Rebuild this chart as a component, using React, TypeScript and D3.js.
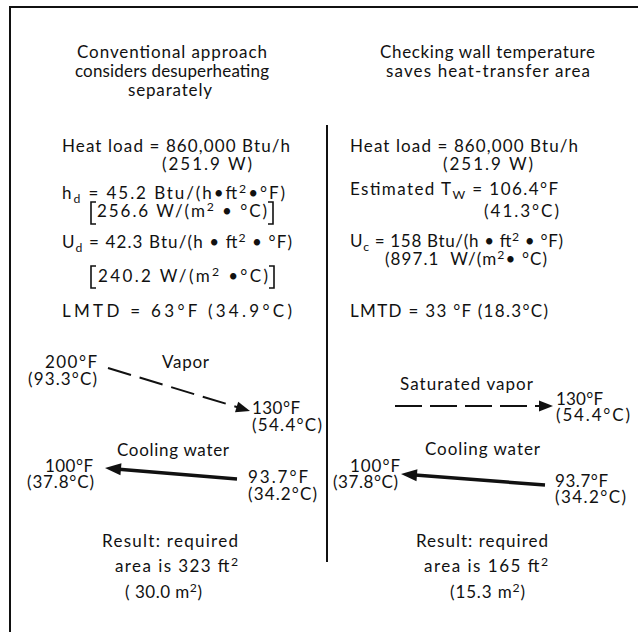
import { useEffect } from "react";
import * as d3 from "d3";

const W = 638;
const H = 632;

// values (left panel = conventional, right = wall-temperature check)
const panelTitles = [
  ["Conventional approach", "considers desuperheating", "separately"],
  ["Checking wall temperature", "saves heat-transfer area"],
];
const heatLoadBtuH = [860000, 860000];
const heatLoadW = [251.9, 251.9];
const hdBtu = 45.2;
const hdSI = 256.6;
const udBtu = 42.3;
const udSI = 240.2;
const wallTempF = 106.4;
const wallTempC = 41.3;
const ucBtu = 158;
const ucSI = 897.1;
const lmtdF = [63, 33];
const lmtdC = [34.9, 18.3];
const vaporLabels = ["Vapor", "Saturated vapor"];
const vaporInF = [200, null];
const vaporInC = [93.3, null];
const vaporOutF = [130, 130];
const vaporOutC = [54.4, 54.4];
const waterInF = [93.7, 93.7];
const waterInC = [34.2, 34.2];
const waterOutF = [100, 100];
const waterOutC = [37.8, 37.8];
const areaFt2 = [323, 165];
const areaM2 = [30.0, 15.3];

const fmtC = d3.format(".1f");
const fmtF = (v: number) => String(v);
const fmtThousands = d3.format(",");

function parse(s: string) {
  const out: { t: string; s: number }[] = [];
  const re = /([_^])\{([^}]*)\}/g;
  let last = 0;
  let m: RegExpExecArray | null;
  while ((m = re.exec(s))) {
    if (m.index > last) out.push({ t: s.slice(last, m.index), s: 0 });
    out.push({ t: m[2], s: m[1] === "_" ? 1 : -1 });
    last = re.lastIndex;
  }
  if (last < s.length) out.push({ t: s.slice(last), s: 0 });
  return out;
}

const Label = ({ x, y, w, s, size = 17 }: any) => {
  const segs = parse(s);
  let prev = 0;
  return (
    <text
      x={x}
      y={y}
      textLength={w}
      lengthAdjust="spacing"
      fontSize={size}
      style={{ whiteSpace: "pre" }}
    >
      {segs.map((g, i) => {
        const off = g.s > 0 ? 4 : g.s < 0 ? -6 : 0;
        const dy = off - prev;
        prev = off;
        return (
          <tspan key={i} dy={dy} fontSize={g.s ? size * 0.72 : size}>
            {g.t}
          </tspan>
        );
      })}
    </text>
  );
};

const Arrow = ({ from, to, width, dash, head = 14, half = 5.5 }: any) => {
  const dx = to[0] - from[0];
  const dy = to[1] - from[1];
  const len = Math.hypot(dx, dy);
  const ux = dx / len;
  const uy = dy / len;
  const base = [to[0] - ux * head, to[1] - uy * head];
  const line = d3.line()([from, [base[0] + ux * 2, base[1] + uy * 2]] as any);
  const tri = [
    to,
    [base[0] - uy * half, base[1] + ux * half],
    [base[0] + uy * half, base[1] - ux * half],
  ];
  return (
    <g>
      <path d={line || ""} stroke="#111" strokeWidth={width} strokeDasharray={dash} fill="none" />
      <polygon points={tri.map((p) => p.join(",")).join(" ")} fill="#111" />
    </g>
  );
};

const Bracket = ({ x, y0, y1, dir }: any) => {
  const p = d3.path();
  p.moveTo(x + dir * 5, y0);
  p.lineTo(x, y0);
  p.lineTo(x, y1);
  p.lineTo(x + dir * 5, y1);
  return <path d={p.toString()} stroke="#111" strokeWidth={1.6} fill="none" />;
};

export default function App() {
  useEffect(() => {
    document.body.style.margin = "0";
  }, []);

  const degF = (v: number) => `${fmtF(v)}°F`;
  const degC = (v: number) => `(${fmtC(v)}°C)`;

  return (
    <svg
      width={W}
      height={H}
      style={{ display: "block", background: "#fff" }}
      fontFamily="Lato, 'DejaVu Sans', sans-serif"
      fill="#111"
    >
      {/* frame */}
      <path d={`M10,${H}V7H${W}`} stroke="#111" strokeWidth={2} fill="none" />
      <line x1={327} x2={327} y1={125} y2={562} stroke="#111" strokeWidth={2} />

      {/* titles */}
      <Label x={77} y={58} w={190} s={panelTitles[0][0]} />
      <Label x={75} y={77} w={194} s={panelTitles[0][1]} />
      <Label x={128} y={96} w={84} s={panelTitles[0][2]} />
      <Label x={380} y={58} w={215} s={panelTitles[1][0]} />
      <Label x={386} y={77} w={204} s={panelTitles[1][1]} />

      {/* left panel figures */}
      <Label x={62} y={152} w={228} s={`Heat load = ${fmtThousands(heatLoadBtuH[0])} Btu/h`} />
      <Label x={162} y={170} w={90} s={`(${fmtC(heatLoadW[0])} W)`} />
      <Label x={62} y={199} w={223} s={`h_{d} = ${hdBtu} Btu/(h•ft^{2}•°F)`} />
      <Bracket x={91} y0={202} y1={224} dir={1} />
      <Label x={97} y={217} w={170} s={`${hdSI} W/(m^{2} • °C)`} />
      <Bracket x={273} y0={202} y1={224} dir={-1} />
      <Label x={62} y={248} w={230} s={`U_{d} = ${udBtu} Btu/(h • ft^{2} • °F)`} />
      <Bracket x={91} y0={266} y1={288} dir={1} />
      <Label x={98} y={282} w={170} s={`${udSI} W/(m^{2} •°C)`} />
      <Bracket x={274} y0={266} y1={288} dir={-1} />
      <Label x={62} y={317} w={230} s={`LMTD = ${lmtdF[0]}°F ${degC(lmtdC[0])}`} />

      {/* right panel figures */}
      <Label x={350} y={152} w={228} s={`Heat load = ${fmtThousands(heatLoadBtuH[1])} Btu/h`} />
      <Label x={443} y={170} w={90} s={`(${fmtC(heatLoadW[1])} W)`} />
      <Label x={350} y={195} w={208} s={`Estimated T_{W} = ${wallTempF}°F`} />
      <Label x={484} y={217} w={75} s={degC(wallTempC)} />
      <Label x={350} y={247} w={213} s={`U_{c} = ${ucBtu} Btu/(h • ft^{2} • °F)`} />
      <Label x={385} y={265} w={162} s={`(${ucSI}  W/(m^{2}• °C)`} />
      <Label x={350} y={317} w={198} s={`LMTD = ${lmtdF[1]} °F ${degC(lmtdC[1])}`} />

      {/* left panel flows */}
      <Label x={45} y={368} w={52} s={degF(vaporInF[0] as number)} />
      <Label x={28} y={385} w={69} s={degC(vaporInC[0] as number)} />
      <Label x={162} y={368} w={47} s={vaporLabels[0]} />
      <Arrow from={[108, 368]} to={[250, 411]} width={2} dash="24 9" />
      <Label x={252} y={414} w={48} s={degF(vaporOutF[0])} />
      <Label x={252} y={431} w={70} s={degC(vaporOutC[0])} />
      <Label x={117} y={456} w={112} s="Cooling water" />
      <Label x={45} y={472} w={48} s={degF(waterOutF[0])} />
      <Label x={27} y={488} w={67} s={degC(waterOutC[0])} />
      <Arrow from={[237, 479]} to={[105, 468]} width={3.5} head={16} half={6} />
      <Label x={248} y={483} w={60} s={degF(waterInF[0])} />
      <Label x={248} y={500} w={69} s={degC(waterInC[0])} />
      <Label x={102} y={547} w={136} s="Result: required" />
      <Label x={115} y={572} w={123} s={`area is ${areaFt2[0]} ft^{2}`} />
      <Label x={125} y={598} w={77} s={`( ${fmtC(areaM2[0])} m^{2})`} />

      {/* right panel flows */}
      <Label x={400} y={390} w={133} s={vaporLabels[1]} />
      <Arrow from={[395, 406]} to={[553, 406]} width={2} dash="27 8" />
      <Label x={556} y={405} w={47} s={degF(vaporOutF[1])} />
      <Label x={556} y={421} w={74} s={degC(vaporOutC[1])} />
      <Label x={425} y={455} w={115} s="Cooling water" />
      <Label x={350} y={472} w={50} s={degF(waterOutF[1])} />
      <Label x={333} y={488} w={65} s={degC(waterOutC[1])} />
      <Arrow from={[545, 485]} to={[401, 474]} width={3.5} head={16} half={6} />
      <Label x={555} y={487} w={53} s={degF(waterInF[1])} />
      <Label x={555} y={503} w={71} s={degC(waterInC[1])} />
      <Label x={416} y={547} w={132} s="Result: required" />
      <Label x={424} y={572} w={124} s={`area is ${areaFt2[1]} ft^{2}`} />
      <Label x={450} y={598} w={75} s={`(${fmtC(areaM2[1])} m^{2})`} />
    </svg>
  );
}
